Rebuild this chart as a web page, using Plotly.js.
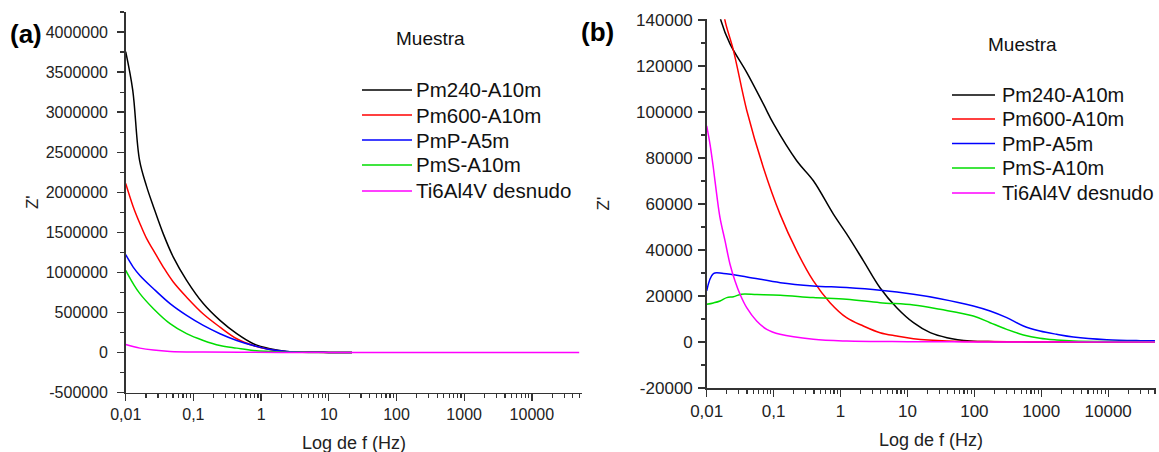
<!DOCTYPE html>
<html>
<head>
<meta charset="utf-8">
<script src="https://cdn.plot.ly/plotly-3.0.1.min.js"></script>
<style>
  html, body { margin: 0; padding: 0; background: #ffffff; }
  #chart { width: 1159px; height: 452px; }
</style>
</head>
<body>
<div id="chart"></div>
<script>
// ---- Series ----
const seriesNames = ['Pm240-A10m', 'Pm600-A10m', 'PmP-A5m', 'PmS-A10m', 'Ti6Al4V desnudo'];
const seriesColors = ['#000000', '#ff0000', '#0000ff', '#00dd00', '#ff00ff'];

// ---- Panel (a): Z' vs frequency (Hz) ----
const fA_Pm240 = [0.01, 0.0127, 0.016, 0.0204, 0.0257, 0.0359, 0.0505, 0.0794, 0.140, 0.247, 0.437, 0.767, 1.35, 2.4, 5, 10, 22];
const zA_Pm240 = [3754000, 3275000, 2400000, 2070000, 1820000, 1480000, 1190000, 900000, 610000, 400000, 234000, 109000, 46000, 12500, 3000, 800, 200];

const fA_Pm600 = [0.01, 0.0129, 0.0162, 0.0204, 0.0257, 0.0359, 0.0505, 0.0794, 0.140, 0.247, 0.437, 0.767, 1.35, 2.4, 5, 10, 22];
const zA_Pm600 = [2110000, 1820000, 1610000, 1420000, 1275000, 1066000, 879000, 690000, 480000, 316000, 171000, 87000, 37000, 8000, 2000, 500, 100];

const fA_PmP = [0.01, 0.0129, 0.0162, 0.0257, 0.0452, 0.0794, 0.140, 0.247, 0.437, 0.767, 1.35, 2.4, 5, 10, 22];
const zA_PmP = [1220000, 1066000, 962000, 796000, 609000, 462000, 337000, 234000, 150000, 87000, 37000, 12000, 3000, 800, 200];

const fA_PmS = [0.01, 0.0129, 0.0162, 0.0257, 0.0452, 0.0794, 0.140, 0.247, 0.437, 0.767, 1.35, 2.4, 5, 10, 22];
const zA_PmS = [1025000, 859000, 734000, 546000, 359000, 234000, 150000, 87000, 54000, 25000, 12000, 3000, 800, 200, 50];

const fA_Ti = [0.01, 0.0162, 0.0257, 0.0452, 0.140, 0.5, 2, 10, 100, 1000, 10000, 50000];
const zA_Ti = [100000, 54000, 29000, 12500, 5000, 1500, 500, 200, 100, 50, 30, 20];

// ---- Panel (b): Z' vs frequency (Hz) ----
const fB_Pm240 = [0.0155, 0.01637, 0.0223, 0.0396, 0.0702, 0.1, 0.2213, 0.393, 0.782, 1.24, 2.2, 3.89, 6.92, 12.3, 21.9, 38.9, 87, 200, 500, 1000, 10000, 50000];
const zB_Pm240 = [143000, 139700, 129600, 117200, 103500, 94800, 78800, 70100, 55600, 46900, 35300, 23600, 14900, 8400, 4050, 1870, 435, 150, 60, 30, 10, 5];

const fB_Pm600 = [0.01778, 0.01879, 0.02512, 0.0398, 0.0702, 0.1247, 0.2213, 0.3926, 0.6966, 1.23, 2.19, 3.89, 6.92, 12.3, 38.9, 316, 1000, 10000, 50000];
const zB_Pm600 = [146000, 139700, 126700, 100550, 75900, 55600, 39600, 26550, 17100, 10580, 6960, 4050, 2610, 1440, 435, 150, 60, 20, 10];

const fB_PmP = [0.01, 0.0126, 0.0178, 0.0398, 0.126, 0.389, 1.23, 3.89, 12.3, 30.7, 96.6, 171.8, 304.8, 540.8, 955, 1698, 3020, 9550, 30200, 50000];
const zB_PmP = [22200, 29750, 29750, 28300, 25800, 24400, 23650, 22500, 20750, 18850, 15670, 13490, 10580, 6960, 4790, 3350, 2180, 1000, 570, 500];

const fB_PmS = [0.01, 0.0126, 0.01585, 0.01995, 0.0251, 0.0331, 0.0562, 0.126, 0.389, 1.23, 3.89, 12.3, 30.7, 96.6, 171.8, 304.8, 540.8, 955, 1698, 3020, 9550, 50000];
const zB_PmS = [16400, 17000, 17850, 19300, 19700, 20750, 20600, 20350, 19300, 18600, 17100, 16100, 14200, 11320, 8400, 5510, 3050, 1600, 870, 435, 200, 150];

const fB_Ti = [0.01, 0.0112, 0.01256, 0.01409, 0.0158, 0.0188, 0.0223, 0.0265, 0.0315, 0.0396, 0.0558, 0.0789, 0.1247, 0.392, 1.24, 10, 100, 1000, 50000];
const zB_Ti = [94000, 86060, 75870, 64290, 54110, 43960, 33820, 26550, 20760, 14930, 9140, 5510, 3350, 1175, 435, 150, 50, 20, 0];

// ---- Tick labels ----
const xTickVals = [0.01, 0.1, 1, 10, 100, 1000, 10000];
const xTickText = ['0,01', '0,1', '1', '10', '100', '1000', '10000'];
const yTickValsA = [-500000, 0, 500000, 1000000, 1500000, 2000000, 2500000, 3000000, 3500000, 4000000];
const yTickTextA = ['-500000', '0', '500000', '1000000', '1500000', '2000000', '2500000', '3000000', '3500000', '4000000'];
const yTickValsB = [-20000, 0, 20000, 40000, 60000, 80000, 100000, 120000, 140000];
const yTickTextB = ['-20000', '0', '20000', '40000', '60000', '80000', '100000', '120000', '140000'];
const xTitle = 'Log de f (Hz)';

// ---- Drawing ----
const W = 1159, H = 452;
const FONT = 'Liberation Sans, Arial, Helvetica, sans-serif';
const px = v => v / W;
const py = v => 1 - v / H;

// minor tick positions on the log axes: 2..9 within each decade
const xMinor = [];
for (let d = -2; d <= 4; d++) {
  for (let m = 2; m <= 9; m++) xMinor.push(m * Math.pow(10, d));
}

const panelA = [[fA_Pm240, zA_Pm240], [fA_Pm600, zA_Pm600], [fA_PmP, zA_PmP], [fA_PmS, zA_PmS], [fA_Ti, zA_Ti]];
const panelB = [[fB_Pm240, zB_Pm240], [fB_Pm600, zB_Pm600], [fB_PmP, zB_PmP], [fB_PmS, zB_PmS], [fB_Ti, zB_Ti]];

const traces = [];
panelA.forEach((s, i) => traces.push({
  x: s[0], y: s[1], xaxis: 'x', yaxis: 'y', type: 'scatter', mode: 'lines',
  name: seriesNames[i], showlegend: false,
  line: { color: seriesColors[i], width: 1.5, shape: 'spline', smoothing: 1 }
}));
panelB.forEach((s, i) => traces.push({
  x: s[0], y: s[1], xaxis: 'x2', yaxis: 'y2', type: 'scatter', mode: 'lines',
  name: seriesNames[i], showlegend: false,
  line: { color: seriesColors[i], width: 1.5, shape: 'spline', smoothing: 1 }
}));

function xAxis(domain, range, anchor, size) {
  return {
    type: 'log', domain: domain, range: range, anchor: anchor,
    showline: true, linecolor: '#333', linewidth: 1.5,
    ticks: 'outside', ticklen: 7, tickwidth: 1.3, tickcolor: '#333',
    tickmode: 'array', tickvals: xTickVals, ticktext: xTickText,
    minor: { tickmode: 'array', tickvals: xMinor, ticks: 'outside', ticklen: 4, tickwidth: 1.2, tickcolor: '#333', showgrid: false },
    tickfont: { family: FONT, size: size, color: '#222' },
    ticklabelstandoff: 0,
    showgrid: false, zeroline: false, automargin: false
  };
}
function yAxis(domain, range, anchor, vals, text, minorStep, size, labelGap, titleGap) {
  return {
    domain: domain, range: range, anchor: anchor,
    showline: true, linecolor: '#333', linewidth: 1.5,
    ticks: 'outside', ticklen: 7, tickwidth: 1.3, tickcolor: '#333',
    tickmode: 'array', tickvals: vals, ticktext: text,
    minor: { tickmode: 'linear', tick0: 0, dtick: minorStep, ticks: 'outside', ticklen: 4, tickwidth: 1.2, tickcolor: '#333', showgrid: false },
    tickfont: { family: FONT, size: size, color: '#222' },
    ticklabelstandoff: labelGap,
    showgrid: false, zeroline: false, automargin: false,
    title: { text: "Z'", font: { family: FONT, size: 17, color: '#222' }, standoff: titleGap }
  };
}

const annotations = [];
const shapes = [];

// frequency-axis titles
annotations.push({ xref: 'paper', yref: 'paper', x: px(354), y: py(442.5), text: xTitle, showarrow: false,
  xanchor: 'center', yanchor: 'middle', font: { family: FONT, size: 18, color: '#222' } });
annotations.push({ xref: 'paper', yref: 'paper', x: px(931), y: py(440), text: xTitle, showarrow: false,
  xanchor: 'center', yanchor: 'middle', font: { family: FONT, size: 18, color: '#222' } });

// panel letters
annotations.push({ xref: 'paper', yref: 'paper', x: px(26), y: py(34), text: '<b>(a)</b>', showarrow: false,
  xanchor: 'center', yanchor: 'middle', font: { family: FONT, size: 26, color: '#000' } });
annotations.push({ xref: 'paper', yref: 'paper', x: px(597), y: py(32), text: '<b>(b)</b>', showarrow: false,
  xanchor: 'center', yanchor: 'middle', font: { family: FONT, size: 26, color: '#000' } });

// legend blocks
function legendBlock(titleX, titleY, lineX0, lineX1, textX, rows, size) {
  annotations.push({ xref: 'paper', yref: 'paper', x: px(titleX), y: py(titleY), text: 'Muestra', showarrow: false,
    xanchor: 'center', yanchor: 'middle', font: { family: FONT, size: 19, color: '#111' } });
  seriesNames.forEach((name, i) => {
    shapes.push({ type: 'line', xref: 'paper', yref: 'paper', x0: px(lineX0), x1: px(lineX1), y0: py(rows[i]), y1: py(rows[i]),
      line: { color: seriesColors[i], width: 1.5 } });
    annotations.push({ xref: 'paper', yref: 'paper', x: px(textX), y: py(rows[i]), text: name, showarrow: false,
      xanchor: 'left', yanchor: 'middle', font: { family: FONT, size: size, color: '#111' } });
  });
}
legendBlock(430, 39, 362, 412, 414, [90, 115, 140, 165, 191], 20.5);
legendBlock(1022, 45, 952, 995, 1000, [95, 119, 143.5, 168, 193], 20);

const layout = {
  width: W, height: H,
  margin: { l: 0, r: 0, t: 0, b: 0 },
  paper_bgcolor: '#ffffff', plot_bgcolor: '#ffffff',
  showlegend: false,
  font: { family: FONT, color: '#222' },
  xaxis: xAxis([px(125.7), px(582.3)], [-2, 4.745], 'y', 16),
  yaxis: yAxis([1 - 392.5 / H, 1 - 12 / H], [-500000, 4250000], 'x', yTickValsA, yTickTextA, 250000, 16, 6, 3),
  xaxis2: xAxis([px(706.7), px(1155.7)], [-2, 4.71], 'y2', 17),
  yaxis2: yAxis([1 - 388 / H, 1 - 19.3 / H], [-20000, 140300], 'x2', yTickValsB, yTickTextB, 10000, 17, 2, 22),
  annotations: annotations,
  shapes: shapes
};

Plotly.newPlot('chart', traces, layout, { staticPlot: true, displayModeBar: false });
</script>
</body>
</html>
